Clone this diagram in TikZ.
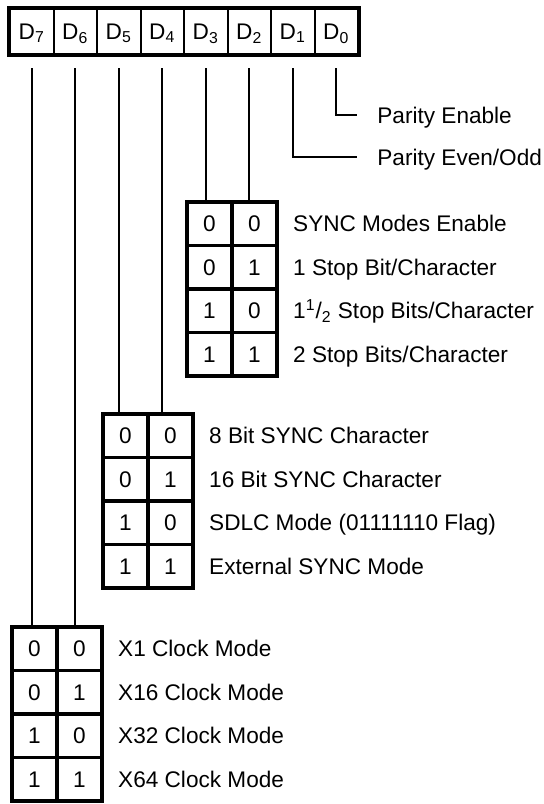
\documentclass[tikz,border=0pt]{standalone}
\usepackage{fontspec}
\setmainfont{Liberation Sans}
\usetikzlibrary{positioning}
\tikzset{%
  regcell/.style={draw, line width=1pt, minimum width=21.75pt, minimum height=22.5pt,
                  inner sep=0pt, text height=8.1pt, text depth=0pt},
  bitcell/.style={draw, line width=1.8pt, minimum width=22.5pt, minimum height=21.75pt,
                  inner sep=0pt, text height=8.1pt, text depth=0pt},
  modetext/.style={inner sep=0pt, text height=8.1pt, text depth=0pt},
  wire/.style={line width=0.85pt},
}
% two-bit table: name, left edge, top edge
\newcommand{\modetable}[3]{%
  \foreach \r/\hi/\lo in {1/0/0, 2/0/1, 3/1/0, 4/1/1} {
    \node[bitcell] (#1-\r-a) at (#2+22.5, #3+43.5*\r-21.75) {\hi};
    \node[bitcell] (#1-\r-b) at (#2+67.5, #3+43.5*\r-21.75) {\lo};
  }
}

\begin{document}
\begin{tikzpicture}[x=0.5pt, y=-0.5pt, font=\fontsize{11.3}{13.5}\selectfont]
    \useasboundingbox (0,0) rectangle (544,804);

    %register bits D7 ... D0
    \foreach \i in {0,...,7} {
      \pgfmathtruncatemacro\b{7-\i}
      \node[regcell] (d\b) at (10+43.5*\i+21.75, 31.5) {D\textsubscript{\b}};
    }
    \draw[line width=2pt] (d7.north west) rectangle (d0.south east);

    %parity bits
    \node[modetext, anchor=west] (par-en) at (377,115) {Parity Enable};
    \node[modetext, anchor=west] (par-eo) at (377,157) {Parity Even/Odd};
    \draw[wire] ([yshift=-6.5pt]d0.south) |- ([xshift=-10pt]par-en.west);
    \draw[wire] ([yshift=-6.5pt]d1.south) |- ([xshift=-10pt]par-eo.west);

    %stop bits (D3 D2)
    \modetable{stop}{187}{202}
    \foreach \r/\txt in {1/SYNC Modes Enable, 2/{1 Stop Bit/Character},
                         3/{1\textsuperscript{1}/\textsubscript{2} Stop Bits/Character},
                         4/{2 Stop Bits/Character}}
      \node[modetext, right=7pt of stop-\r-b] (stop-\r-t) {\txt};
    \draw[wire] ([yshift=-6.5pt]d3.south) -- (d3.south |- stop-1-a.north);
    \draw[wire] ([yshift=-6.5pt]d2.south) -- (d2.south |- stop-1-b.north);

    %character length (D5 D4)
    \modetable{sync}{103}{414}
    \foreach \r/\txt in {1/8 Bit SYNC Character, 2/16 Bit SYNC Character,
                         3/SDLC Mode (01111110 Flag), 4/External SYNC Mode}
      \node[modetext, right=7pt of sync-\r-b] (sync-\r-t) {\txt};
    \draw[wire] ([yshift=-6.5pt]d5.south) -- (d5.south |- sync-1-a.north);
    \draw[wire] ([yshift=-6.5pt]d4.south) -- (d4.south |- sync-1-b.north);

    %clock rate (D7 D6)
    \modetable{clk}{12}{627}
    \foreach \r/\txt in {1/X1 Clock Mode, 2/X16 Clock Mode,
                         3/X32 Clock Mode, 4/X64 Clock Mode}
      \node[modetext, right=7pt of clk-\r-b] (clk-\r-t) {\txt};
    \draw[wire] ([yshift=-6.5pt]d7.south) -- (d7.south |- clk-1-a.north);
    \draw[wire] ([yshift=-6.5pt]d6.south) -- (d6.south |- clk-1-b.north);
\end{tikzpicture}
\end{document}
